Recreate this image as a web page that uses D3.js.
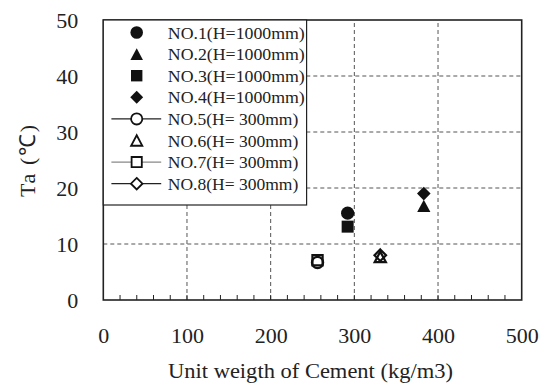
<!DOCTYPE html>
<html><head><meta charset="utf-8">
<script src="https://cdn.jsdelivr.net/npm/d3@7"></script>
<style>body{margin:0;background:#fff}svg{display:block}text{font-family:"Liberation Serif","Times New Roman",serif;fill:#222}</style>
</head><body><svg id="c" width="542" height="385"></svg>
<script>
const seriesNames = ["NO.1(H=1000mm)","NO.2(H=1000mm)","NO.3(H=1000mm)","NO.4(H=1000mm)","NO.5(H= 300mm)","NO.6(H= 300mm)","NO.7(H= 300mm)","NO.8(H= 300mm)"];
const cementValues = [292, 383, 292, 383, 256, 331, 256, 331];
const taValues = [15.5, 16.8, 13.1, 19.0, 6.7, 7.7, 7.1, 8.0];
const shapes = ["circle","triangle","square","diamond","circle","triangle","square","diamond"];
const filled = [true,true,true,true,false,false,false,false];
const legendLine = [null,null,null,null,"#222",null,"#888","#222"];
const xTicks = [0,100,200,300,400,500];
const yTicks = [0,10,20,30,40,50];

const svg = d3.select("#c");
const W = 542, H = 385;
const x = d3.scaleLinear().domain([0,500]).range([103.3, 521.7]);
const y = d3.scaleLinear().domain([0,50]).range([300, 20]);

// grid
svg.append("g").selectAll("line").data(xTicks.slice(1,-1)).join("line")
  .attr("x1",d=>x(d)).attr("x2",d=>x(d)).attr("y1",y(0)).attr("y2",y(50))
  .attr("stroke","#555").attr("stroke-width",1).attr("stroke-dasharray","4,3");
svg.append("g").selectAll("line").data(yTicks.slice(1,-1)).join("line")
  .attr("x1",x(0)).attr("x2",x(500)).attr("y1",d=>y(d)).attr("y2",d=>y(d))
  .attr("stroke","#555").attr("stroke-width",1).attr("stroke-dasharray","4,3");

// minor ticks on bottom
svg.append("g").selectAll("line").data(d3.range(20,500,20)).join("line")
  .attr("x1",d=>x(d)).attr("x2",d=>x(d)).attr("y1",y(0)).attr("y2",y(0)-5)
  .attr("stroke","#222").attr("stroke-width",1);

// frame
svg.append("rect").attr("x",x(0)).attr("y",y(50)).attr("width",x(500)-x(0)).attr("height",y(0)-y(50))
  .attr("fill","none").attr("stroke","#222").attr("stroke-width",1.6);

// axes labels
const xa = d3.axisBottom(x).tickValues(xTicks).tickSize(0).tickPadding(27);
svg.append("g").attr("transform",`translate(0,${y(0)})`).call(xa)
  .call(g=>g.select(".domain").remove())
  .selectAll("text").style("font-size","22px").attr("font-family","Liberation Serif").attr("fill","#222");
const ya = d3.axisLeft(y).tickValues(yTicks).tickSize(0).tickPadding(25);
svg.append("g").attr("transform",`translate(${x(0)},0)`).call(ya)
  .call(g=>g.select(".domain").remove())
  .selectAll("text").style("font-size","22px").attr("font-family","Liberation Serif").attr("fill","#222");

svg.append("text").attr("x",310.5).attr("y",378).attr("text-anchor","middle").style("font-size","22px")
  .attr("textLength",285).attr("lengthAdjust","spacingAndGlyphs")
  .text("Unit weigth of Cement (kg/m3)");
svg.append("text").attr("transform","translate(35,161) rotate(-90)").attr("text-anchor","middle").style("font-size","22px")
  .attr("textLength",72).text("Ta (℃)");

function sym(s, k){
  k = k || 1;
  const p = d3.path();
  if(s==="circle"){ const r=6.6*k; p.moveTo(r,0); p.arc(0,0,r,0,2*Math.PI); }
  else if(s==="square"){ const h=6*k; p.rect(-h,-h,2*h,2*h); }
  else if(s==="triangle"){ const w=6.6*k, hh=6.2*k; p.moveTo(0,-hh); p.lineTo(w,hh); p.lineTo(-w,hh); p.closePath(); }
  else { const h=6.8*k; p.moveTo(0,-h); p.lineTo(h,0); p.lineTo(0,h); p.lineTo(-h,0); p.closePath(); }
  return p.toString();
}

// legend
const lg = svg.append("g");
lg.append("rect").attr("x",x(0)).attr("y",y(50)).attr("width",306.6-x(0)).attr("height",205-y(50))
  .attr("fill","#fff").attr("stroke","#222").attr("stroke-width",1.2);
seriesNames.forEach((n,i)=>{
  const cy = 32.5 + i*21.6;
  if(legendLine[i]) lg.append("line").attr("x1",111.4).attr("x2",161.2).attr("y1",cy).attr("y2",cy)
    .attr("stroke",legendLine[i]).attr("stroke-width",1.3);
  const k = filled[i] ? 0.95 : 0.85;
  lg.append("path").attr("d",sym(shapes[i],k)).attr("transform",`translate(136.7,${cy})`)
    .attr("fill",filled[i]?"#111":"#fff").attr("stroke","#111").attr("stroke-width",filled[i]?0:1.8);
  lg.append("text").attr("x",167.8).attr("y",cy+6).style("font-size","17px").attr("textLength",i<4?137:130.5)
    .attr("lengthAdjust","spacingAndGlyphs").text(n);
});

// points
svg.append("g").selectAll("path").data(seriesNames.map((n,i)=>i)).join("path")
  .attr("d",i=>sym(shapes[i], filled[i]?1:0.85)).attr("transform",i=>`translate(${x(cementValues[i])},${y(taValues[i])})`)
  .attr("fill",i=>filled[i]?"#111":"none").attr("stroke","#111").attr("stroke-width",i=>filled[i]?0:2.2);
</script></body></html>
